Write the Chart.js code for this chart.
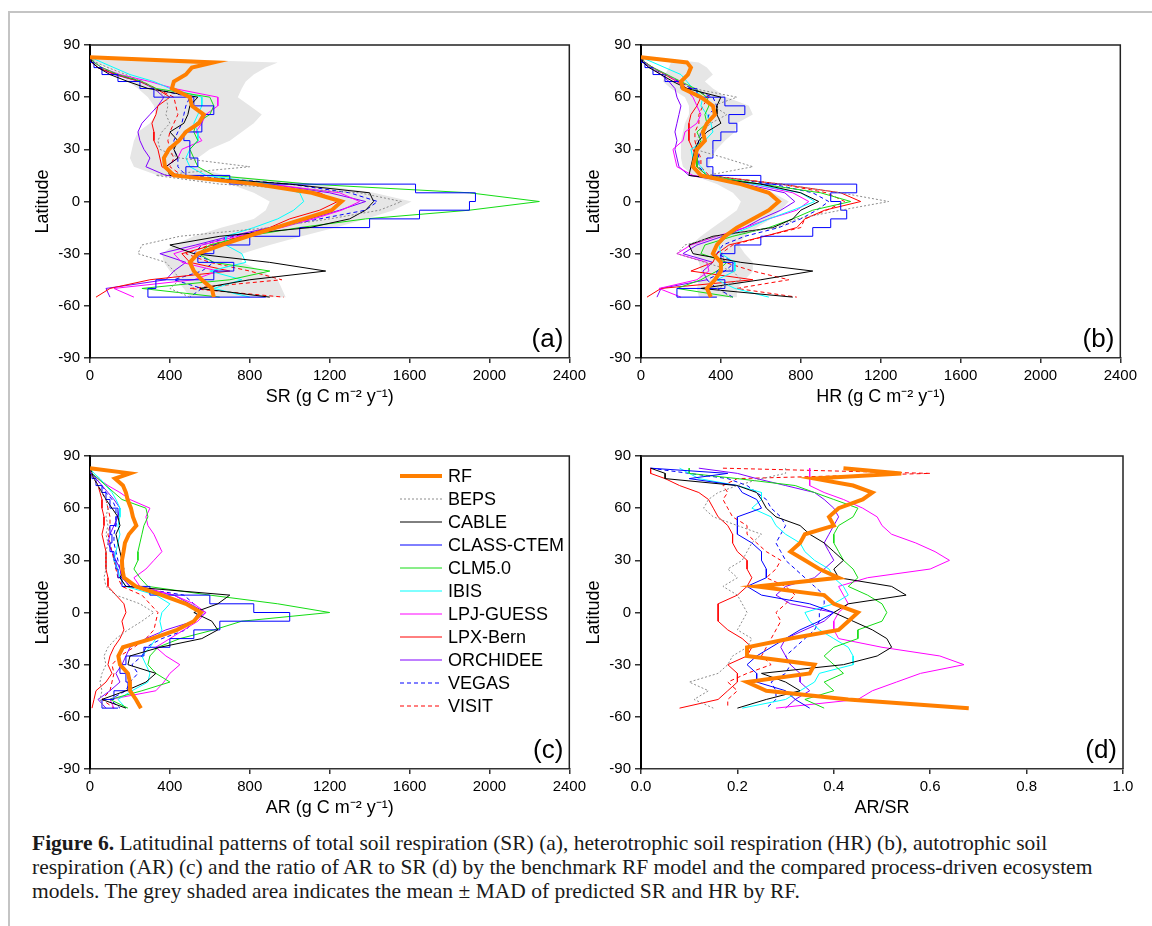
<!DOCTYPE html>
<html>
<head>
<meta charset="utf-8">
<script src="https://cdn.jsdelivr.net/npm/chart.js@4.4.0/dist/chart.umd.min.js"></script>
<style>
  body { margin: 0; background: #fff; width: 1152px; height: 926px; position: relative; overflow: hidden; }
  .edgeTop { position: absolute; left: 8px; top: 11px; right: 0; height: 2px; background: #c4c4c4; }
  .edgeLeft { position: absolute; left: 8px; top: 11px; width: 2px; bottom: 0; background: #c4c4c4; }
  canvas { position: absolute; }
  #caption { position: absolute; left: 32px; top: 831px; font-family: 'Liberation Serif', serif; font-size: 21.5px;
             line-height: 24px; white-space: nowrap; color: #1a1a1a; }
</style>
</head>
<body>
<div class="edgeTop"></div>
<div class="edgeLeft"></div>
<canvas id="panelA" width="590" height="400" style="left:0px;top:20px"></canvas>
<canvas id="panelB" width="590" height="400" style="left:551px;top:20px"></canvas>
<canvas id="panelC" width="590" height="400" style="left:0px;top:431px"></canvas>
<canvas id="panelD" width="590" height="400" style="left:551px;top:431px"></canvas>
<div id="caption"><b>Figure 6.</b> Latitudinal patterns of total soil respiration (SR) (a), heterotrophic soil respiration (HR) (b), autotrophic soil<br>respiration (AR) (c) and the ratio of AR to SR (d) by the benchmark RF model and the compared process-driven ecosystem<br>models. The grey shaded area indicates the mean &plusmn; MAD of predicted SR and HR by RF.</div>

<script>
// latitude grid shared by every profile (deg)
const LAT = [83, 80, 77, 73, 69, 65, 60, 55, 50, 45, 40, 35, 30, 25, 20, 15, 10, 5, 0, -5, -10, -15, -20, -25, -30, -35, -40, -45, -50, -55];
const MODELS = ['RF', 'BEPS', 'CABLE', 'CLASS-CTEM', 'CLM5.0', 'IBIS', 'LPJ-GUESS', 'LPX-Bern', 'ORCHIDEE', 'VEGAS', 'VISIT'];

// (a) SR, g C m-2 y-1
const srRF    = [0, 620, 510, 480, 420, 410, 500, 510, 570, 545, 480, 445, 395, 370, 375, 420, 830, 1110, 1260, 1210, 1070, 930, 790, 660, 540, 500, 520, 560, 610, 620];
const srBEPS  = [0, 30, 90, 180, 260, 320, 380, 390, 380, 400, 360, 340, 350, 450, 800, 330, 650, 1350, 1560, 1450, 1200, 900, 450, 260, 240, 380, 420, 450, 400, 500];
const srCABLE = [0, 10, 40, 100, 190, 290, 540, 500, 490, 470, 400, 440, 420, 440, 380, 400, 1000, 1400, 1420, 1380, 1300, 1100, 650, 400, 520, 900, 1180, 800, 550, 900];
const srCLASS = [0, 20, 60, 140, 250, 320, 520, 620, 560, 560, 470, 500, 500, 540, 480, 700, 1630, 1930, 1900, 1650, 1400, 1050, 800, 620, 540, 720, 620, 330, 290, 880];
const srCLM   = [0, 20, 60, 140, 260, 330, 600, 620, 600, 530, 520, 540, 500, 520, 540, 620, 1100, 1900, 2250, 1900, 1380, 1050, 780, 600, 540, 620, 900, 700, 260, 650];
const srIBIS  = [0, 60, 120, 200, 320, 400, 560, 560, 540, 520, 540, 540, 500, 480, 500, 580, 900, 1050, 1070, 1020, 940, 820, 680, 680, 760, 780, 600, 760, 620, 800];
const srLPJ   = [0, 20, 60, 150, 300, 420, 640, 640, 580, 560, 530, 560, 460, 440, 380, 420, 900, 1250, 1350, 1260, 1120, 960, 740, 560, 420, 460, 640, 520, 120, 220];
const srLPX   = [0, 10, 40, 130, 250, 330, 400, 340, 330, 310, 320, 320, 340, 350, 360, 440, 800, 1150, 1240, 1150, 1000, 900, 760, 620, 460, 500, 700, 300, 100, 30];
const srORCH  = [0, 10, 40, 120, 250, 320, 370, 340, 300, 260, 240, 250, 270, 300, 280, 380, 900, 1200, 1380, 1250, 1100, 900, 700, 530, 350, 480, 420, 380, 80, 100];
const srVEGAS = [0, 10, 40, 140, 260, 320, 500, 480, 470, 460, 440, 420, 420, 440, 440, 480, 1000, 1300, 1440, 1380, 1150, 920, 720, 560, 520, 620, 560, 420, 560, 500];
const srVISIT = [0, 10, 40, 130, 260, 330, 420, 430, 440, 420, 400, 390, 400, 420, 400, 460, 900, 1130, 1260, 1220, 1100, 930, 760, 600, 480, 600, 800, 960, 500, 970];
const srBandLo = [0, 20, 80, 150, 190, 240, 290, 320, 330, 300, 240, 220, 210, 200, 220, 340, 700, 820, 900, 880, 820, 660, 520, 420, 360, 370, 400, 430, 470, 500];
const srBandHi = [100, 940, 880, 820, 780, 760, 740, 800, 860, 820, 760, 700, 600, 540, 520, 680, 1120, 1420, 1610, 1520, 1380, 1230, 1060, 900, 760, 760, 860, 940, 960, 980];

// (b) HR
const hrRF    = [0, 230, 250, 235, 200, 210, 300, 360, 370, 330, 310, 320, 280, 270, 260, 300, 500, 640, 690, 640, 560, 480, 420, 380, 360, 400, 400, 370, 330, 350];
const hrBEPS  = [0, 20, 50, 120, 200, 260, 480, 360, 430, 350, 300, 280, 270, 420, 560, 330, 700, 1000, 1240, 1000, 780, 680, 380, 220, 180, 320, 460, 500, 380, 450];
const hrCABLE = [0, 10, 40, 100, 160, 230, 400, 380, 380, 400, 330, 290, 270, 260, 250, 240, 600, 800, 890, 800, 760, 660, 360, 240, 260, 500, 860, 600, 300, 760];
const hrCLASS = [0, 20, 60, 120, 200, 280, 420, 520, 440, 480, 400, 360, 360, 330, 360, 600, 1080, 950, 1000, 1030, 950, 860, 600, 470, 400, 460, 380, 420, 180, 380];
const hrCLM   = [0, 20, 60, 130, 200, 270, 330, 340, 320, 330, 280, 300, 280, 280, 280, 330, 600, 900, 1050, 860, 760, 640, 460, 320, 300, 430, 380, 300, 180, 460];
const hrIBIS  = [0, 60, 120, 200, 230, 260, 310, 300, 330, 350, 360, 320, 250, 260, 300, 330, 560, 800, 870, 760, 640, 540, 430, 390, 400, 470, 470, 380, 470, 640];
const hrLPJ   = [0, 20, 60, 130, 180, 220, 260, 280, 300, 280, 220, 210, 160, 170, 180, 260, 560, 760, 840, 780, 640, 520, 380, 250, 180, 330, 340, 280, 90, 200];
const hrLPX   = [0, 20, 60, 120, 180, 230, 300, 280, 250, 240, 240, 240, 260, 280, 280, 330, 700, 1000, 1100, 920, 820, 780, 620, 440, 380, 360, 250, 560, 100, 30];
const hrORCH  = [0, 10, 50, 100, 140, 170, 180, 200, 190, 180, 170, 180, 170, 180, 190, 240, 520, 720, 770, 700, 600, 520, 410, 280, 210, 360, 310, 330, 100, 80];
const hrVEGAS = [0, 10, 50, 120, 190, 250, 360, 380, 340, 330, 300, 290, 280, 290, 290, 330, 660, 860, 940, 880, 800, 690, 520, 410, 380, 470, 420, 330, 380, 460];
const hrVISIT = [0, 20, 60, 120, 190, 260, 340, 310, 290, 290, 270, 270, 280, 300, 300, 340, 700, 930, 1020, 930, 820, 800, 620, 460, 400, 420, 560, 740, 480, 780];
const hrBandLo = [0, 150, 140, 120, 110, 150, 220, 240, 240, 220, 210, 200, 200, 200, 210, 260, 380, 460, 500, 480, 420, 360, 300, 250, 260, 290, 300, 290, 280, 290];
const hrBandHi = [60, 290, 330, 360, 320, 360, 430, 540, 560, 480, 470, 420, 380, 350, 340, 380, 540, 660, 740, 700, 650, 580, 520, 490, 520, 560, 560, 520, 480, 480];

// (c) AR
const arRF    = [0, 200, 125, 165, 180, 188, 205, 215, 232, 195, 175, 168, 160, 162, 170, 230, 360, 480, 556, 520, 436, 310, 165, 142, 150, 190, 200, 200, 230, 255];
const arBEPS  = [0, 10, 20, 40, 60, 80, 90, 80, 90, 80, 90, 80, 80, 80, 70, 80, 130, 250, 320, 260, 190, 130, 90, 70, 80, 60, 50, 60, 50, 70];
const arCABLE = [0, 10, 20, 40, 60, 80, 110, 140, 150, 130, 140, 150, 160, 170, 150, 180, 700, 640, 520, 610, 640, 560, 350, 200, 190, 330, 280, 180, 60, 180];
const arCLASS = [0, 10, 30, 60, 80, 100, 140, 130, 100, 110, 100, 120, 130, 140, 160, 300, 600, 820, 1000, 650, 520, 400, 270, 180, 150, 180, 190, 120, 60, 140];
const arCLM   = [0, 10, 40, 80, 120, 160, 280, 290, 270, 260, 250, 240, 240, 220, 250, 290, 600, 940, 1200, 760, 620, 450, 340, 300, 290, 330, 400, 260, 100, 190];
const arIBIS  = [0, 20, 50, 80, 110, 130, 150, 150, 140, 150, 140, 130, 120, 140, 150, 180, 330, 400, 360, 350, 360, 330, 300, 260, 280, 300, 290, 210, 140, 180];
const arLPJ   = [0, 10, 40, 90, 150, 200, 300, 280, 290, 320, 340, 360, 320, 280, 220, 250, 420, 520, 580, 540, 470, 400, 330, 380, 450, 400, 370, 330, 100, 120];
const arLPX   = [0, 5, 20, 40, 50, 60, 60, 70, 70, 60, 70, 80, 80, 80, 90, 90, 130, 170, 180, 160, 170, 150, 120, 100, 90, 110, 80, 30, 20, 10];
const arORCH  = [0, 10, 30, 60, 90, 120, 150, 140, 120, 100, 90, 110, 130, 150, 160, 200, 420, 500, 580, 520, 380, 280, 200, 180, 160, 130, 150, 100, 40, 80];
const arVEGAS = [0, 10, 30, 60, 80, 110, 130, 130, 130, 120, 120, 130, 140, 150, 160, 200, 470, 520, 540, 520, 480, 360, 280, 260, 210, 240, 200, 180, 100, 150];
const arVISIT = [0, 5, 20, 40, 60, 80, 90, 100, 100, 90, 100, 110, 120, 130, 140, 160, 260, 300, 340, 330, 320, 280, 220, 150, 110, 120, 110, 100, 60, 120];

// (d) AR/SR
const rtRF    = [0.42, 0.54, 0.36, 0.44, 0.48, 0.46, 0.41, 0.39, 0.40, 0.34, 0.33, 0.31, 0.34, 0.37, 0.41, 0.24, 0.38, 0.40, 0.45, 0.43, 0.41, 0.31, 0.22, 0.22, 0.36, 0.35, 0.22, 0.26, 0.43, 0.68];
const rtBEPS  = [0.30, 0.30, 0.25, 0.20, 0.16, 0.14, 0.13, 0.15, 0.20, 0.25, 0.23, 0.22, 0.21, 0.18, 0.20, 0.17, 0.20, 0.21, 0.22, 0.21, 0.20, 0.23, 0.22, 0.19, 0.18, 0.16, 0.10, 0.14, 0.11, 0.15];
const rtCABLE = [0.02, 0.05, 0.05, 0.20, 0.24, 0.25, 0.26, 0.28, 0.33, 0.35, 0.38, 0.40, 0.42, 0.40, 0.41, 0.52, 0.55, 0.43, 0.40, 0.44, 0.48, 0.51, 0.52, 0.49, 0.42, 0.25, 0.30, 0.33, 0.26, 0.20];
const rtCLASS = [0.02, 0.18, 0.10, 0.20, 0.21, 0.24, 0.25, 0.20, 0.20, 0.20, 0.23, 0.25, 0.25, 0.26, 0.26, 0.22, 0.25, 0.35, 0.40, 0.37, 0.33, 0.30, 0.27, 0.24, 0.22, 0.24, 0.24, 0.30, 0.32, 0.35];
const rtCLM   = [0.10, 0.10, 0.20, 0.32, 0.36, 0.40, 0.45, 0.44, 0.41, 0.40, 0.40, 0.41, 0.42, 0.44, 0.45, 0.43, 0.47, 0.50, 0.51, 0.50, 0.45, 0.45, 0.40, 0.38, 0.40, 0.42, 0.38, 0.40, 0.34, 0.38];
const rtIBIS  = [0.08, 0.10, 0.12, 0.20, 0.25, 0.25, 0.23, 0.27, 0.28, 0.30, 0.33, 0.34, 0.36, 0.39, 0.40, 0.42, 0.43, 0.40, 0.34, 0.35, 0.37, 0.40, 0.43, 0.44, 0.44, 0.37, 0.36, 0.33, 0.30, 0.21];
const rtLPJ   = [0.35, 0.35, 0.35, 0.35, 0.38, 0.42, 0.46, 0.49, 0.50, 0.52, 0.57, 0.61, 0.64, 0.60, 0.47, 0.41, 0.42, 0.43, 0.41, 0.40, 0.40, 0.41, 0.50, 0.62, 0.67, 0.58, 0.53, 0.48, 0.45, 0.28];
const rtLPX   = [0.02, 0.02, 0.05, 0.08, 0.12, 0.14, 0.15, 0.16, 0.18, 0.19, 0.19, 0.20, 0.22, 0.22, 0.23, 0.22, 0.20, 0.16, 0.16, 0.16, 0.18, 0.21, 0.23, 0.22, 0.18, 0.20, 0.20, 0.18, 0.16, 0.08];
const rtORCH  = [0.12, 0.20, 0.24, 0.30, 0.36, 0.38, 0.40, 0.41, 0.40, 0.39, 0.38, 0.39, 0.40, 0.38, 0.36, 0.30, 0.28, 0.31, 0.40, 0.38, 0.34, 0.30, 0.29, 0.30, 0.31, 0.33, 0.33, 0.35, 0.32, 0.30];
const rtVEGAS = [0.02, 0.10, 0.18, 0.22, 0.24, 0.26, 0.27, 0.29, 0.30, 0.29, 0.28, 0.29, 0.30, 0.32, 0.34, 0.36, 0.38, 0.38, 0.37, 0.37, 0.36, 0.34, 0.32, 0.30, 0.31, 0.30, 0.27, 0.28, 0.28, 0.26];
const rtVISIT = [0.17, 0.60, 0.20, 0.17, 0.18, 0.17, 0.18, 0.19, 0.22, 0.22, 0.24, 0.26, 0.29, 0.28, 0.26, 0.30, 0.32, 0.30, 0.28, 0.29, 0.28, 0.27, 0.26, 0.25, 0.27, 0.22, 0.18, 0.20, 0.18, 0.18];

// line styles, same order as MODELS
const COLORS = ['#ff7f00', '#8c8c8c', '#000000', '#0000ff', '#14dc14', '#00ffff', '#ff00ff', '#ff0000', '#8000ff', '#0000ff', '#ff0000'];
const WIDTHS = [4, 1, 1, 1, 1, 1, 1, 1, 1, 1, 1];
const DASHES = [[], [2, 2], [], [], [], [], [], [], [], [4, 3], [4, 3]];

Chart.defaults.font.family = "'Liberation Sans', Arial, sans-serif";
Chart.defaults.color = '#000';

// grey mean +- MAD band behind the lines
const bandPlugin = {
  id: 'band',
  beforeDatasetsDraw(chart, args, opts) {
    if (!opts.lo) return;
    const {ctx, scales: {x, y}} = chart;
    ctx.save();
    ctx.beginPath();
    LAT.forEach((lat, i) => {
      const px = x.getPixelForValue(opts.hi[i]), py = y.getPixelForValue(lat);
      i ? ctx.lineTo(px, py) : ctx.moveTo(px, py);
    });
    for (let i = LAT.length - 1; i >= 0; i--) {
      ctx.lineTo(x.getPixelForValue(opts.lo[i]), y.getPixelForValue(LAT[i]));
    }
    ctx.closePath();
    ctx.fillStyle = '#e6e6e6';
    ctx.fill();
    ctx.restore();
  }
};

// box frame, panel letter and (for c) the legend
const framePlugin = {
  id: 'frame',
  afterDatasetsDraw(chart, args, opts) {
    const {ctx, chartArea: a} = chart;
    ctx.save();
    ctx.strokeStyle = '#222';
    ctx.lineWidth = 1.5;
    ctx.beginPath();
    ctx.moveTo(a.left, a.top);
    ctx.lineTo(a.right, a.top);
    ctx.lineTo(a.right, a.bottom);
    ctx.stroke();
    ctx.fillStyle = '#000';
    ctx.font = "26px 'Liberation Sans', Arial, sans-serif";
    ctx.textAlign = 'right';
    ctx.textBaseline = 'middle';
    ctx.fillText(opts.letter, a.right - 6, a.bottom - 18);
    if (opts.legend) {
      ctx.font = "18px 'Liberation Sans', Arial, sans-serif";
      ctx.textAlign = 'left';
      chart.data.datasets.forEach((ds, i) => {
        const yy = a.top + 20 + i * 23;
        ctx.strokeStyle = ds.borderColor;
        ctx.lineWidth = ds.borderWidth;
        ctx.setLineDash(ds.borderDash);
        ctx.beginPath();
        ctx.moveTo(400, yy);
        ctx.lineTo(442, yy);
        ctx.stroke();
        ctx.setLineDash([]);
        ctx.fillText(ds.label, 448, yy + 1);
      });
    }
    ctx.restore();
  }
};

function makePanel(id, series, xMax, xStep, xTitle, letter, band, stepClass, legend) {
  const datasets = series.map((vals, i) => ({
    label: MODELS[i],
    data: LAT.map((lat, k) => ({x: vals[k], y: lat})),
    showLine: true,
    pointRadius: 0,
    borderColor: COLORS[i],
    borderWidth: WIDTHS[i],
    borderDash: DASHES[i],
    stepped: (stepClass && i === 3) ? 'after' : false,
    fill: false
  }));
  new Chart(document.getElementById(id), {
    type: 'scatter',
    data: {datasets},
    plugins: [bandPlugin, framePlugin],
    options: {
      responsive: false,
      animation: false,
      layout: {padding: {left: 28, right: 18, top: 25, bottom: 8}},
      plugins: {
        legend: {display: false},
        tooltip: {enabled: false},
        band: band ? {lo: band[0], hi: band[1]} : {},
        frame: {letter: letter, legend: legend}
      },
      scales: {
        x: {
          type: 'linear', min: 0, max: xMax,
          ticks: {stepSize: xStep, font: {size: 15}, padding: 4,
                  callback: v => xMax < 5 ? v.toFixed(1) : String(v)},
          grid: {drawOnChartArea: false, tickLength: 5, color: '#333', lineWidth: 1.5},
          border: {color: '#333', width: 1.5},
          title: {display: true, text: xTitle, font: {size: 18}, padding: {top: 4, bottom: 4}},
          afterFit: s => { s.height = 54; }
        },
        y: {
          type: 'linear', min: -90, max: 90,
          ticks: {stepSize: 30, font: {size: 15}, padding: 4},
          grid: {drawOnChartArea: false, tickLength: 6, color: '#333', lineWidth: 1.5},
          border: {color: '#000', width: 2},
          title: {display: true, text: 'Latitude', font: {size: 18}, padding: {top: 4, bottom: 4}},
          afterFit: s => { s.width = 62; }
        }
      }
    }
  });
}

makePanel('panelA', [srRF, srBEPS, srCABLE, srCLASS, srCLM, srIBIS, srLPJ, srLPX, srORCH, srVEGAS, srVISIT],
  2400, 400, 'SR (g C m\u207B\u00B2 y\u207B\u00B9)', '(a)', [srBandLo, srBandHi], true, false);
makePanel('panelB', [hrRF, hrBEPS, hrCABLE, hrCLASS, hrCLM, hrIBIS, hrLPJ, hrLPX, hrORCH, hrVEGAS, hrVISIT],
  2400, 400, 'HR (g C m\u207B\u00B2 y\u207B\u00B9)', '(b)', [hrBandLo, hrBandHi], true, false);
makePanel('panelC', [arRF, arBEPS, arCABLE, arCLASS, arCLM, arIBIS, arLPJ, arLPX, arORCH, arVEGAS, arVISIT],
  2400, 400, 'AR (g C m\u207B\u00B2 y\u207B\u00B9)', '(c)', null, true, true);
makePanel('panelD', [rtRF, rtBEPS, rtCABLE, rtCLASS, rtCLM, rtIBIS, rtLPJ, rtLPX, rtORCH, rtVEGAS, rtVISIT],
  1.0, 0.2, 'AR/SR', '(d)', null, false, false);
</script>
</body>
</html>
